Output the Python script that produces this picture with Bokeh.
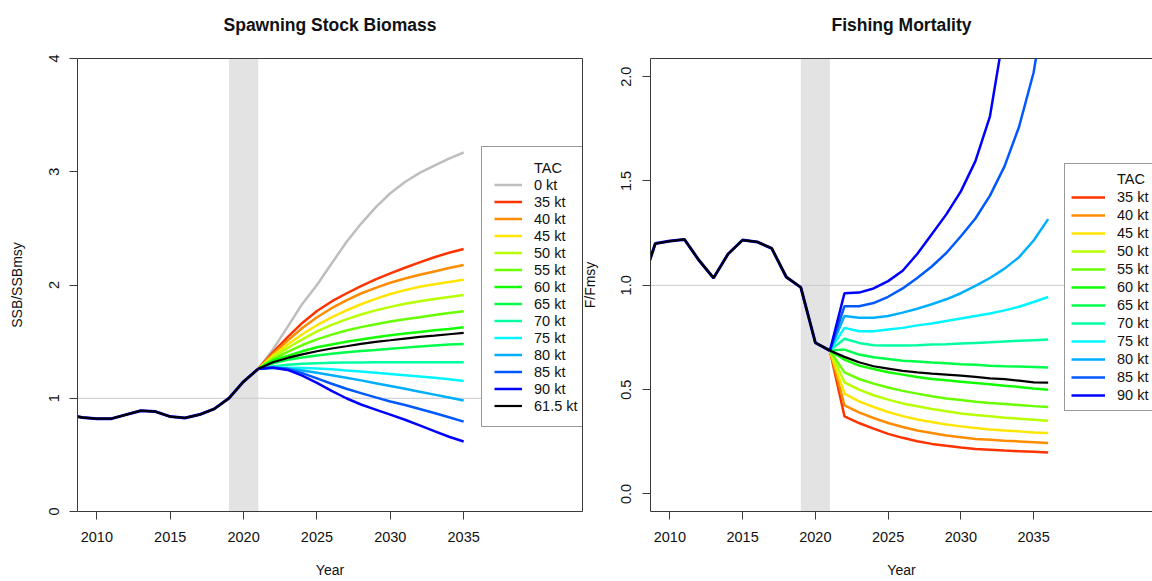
from bokeh.plotting import figure
from bokeh.models import (Range1d, FixedTicker, PrintfTickFormatter, BoxAnnotation,
                          Span, Legend, LegendItem, LinearAxis)
from bokeh.layouts import row
from bokeh.embed import file_html
from bokeh.resources import INLINE

# ---------------- data ----------------
hist_years = list(range(2008, 2022))
ssb_hist = [0.855, 0.83, 0.82, 0.82, 0.855, 0.89, 0.882, 0.838, 0.826, 0.856, 0.906, 1.0, 1.147, 1.26]
f_hist = [0.99, 1.20, 1.212, 1.22, 1.12, 1.035, 1.15, 1.217, 1.208, 1.177, 1.04, 0.99, 0.725, 0.687]

ssb_proj_years = list(range(2022, 2036))
f_proj_years = list(range(2022, 2037))

tac_labels = ["35 kt", "40 kt", "45 kt", "50 kt", "55 kt", "60 kt",
              "65 kt", "70 kt", "75 kt", "80 kt", "85 kt", "90 kt"]
tac_colors = ["#FF3300", "#FF8C00", "#FFE500", "#B8FF00", "#68FF00", "#11FF00",
              "#00FF48", "#00FFA0", "#00F6FF", "#00AEFF", "#0059FF", "#0000FF"]
zero_label = "0 kt"
zero_color = "#BEBEBE"
advice_label = "61.5 kt"
advice_color = "#000000"

ssb_0kt = [1.43, 1.63, 1.833, 2.0, 2.19, 2.377, 2.54, 2.686, 2.81, 2.91, 2.99, 3.054, 3.116, 3.17]
ssb_35kt = [1.406, 1.539, 1.665, 1.77, 1.855, 1.925, 1.99, 2.05, 2.103, 2.152, 2.2, 2.245, 2.285, 2.318]
ssb_40kt = [1.392, 1.509, 1.62, 1.715, 1.795, 1.865, 1.925, 1.975, 2.02, 2.058, 2.09, 2.12, 2.15, 2.177]
ssb_45kt = [1.377, 1.475, 1.565, 1.645, 1.715, 1.775, 1.83, 1.877, 1.92, 1.955, 1.985, 2.007, 2.027, 2.047]
ssb_50kt = [1.362, 1.445, 1.52, 1.59, 1.648, 1.697, 1.74, 1.776, 1.807, 1.834, 1.857, 1.877, 1.895, 1.912]
ssb_55kt = [1.345, 1.41, 1.47, 1.52, 1.562, 1.598, 1.628, 1.654, 1.677, 1.697, 1.716, 1.736, 1.753, 1.768]
ssb_60kt = [1.333, 1.374, 1.415, 1.45, 1.474, 1.498, 1.518, 1.538, 1.556, 1.571, 1.586, 1.6, 1.612, 1.627]
ssb_65kt = [1.309, 1.34, 1.36, 1.377, 1.392, 1.406, 1.418, 1.427, 1.438, 1.447, 1.456, 1.465, 1.474, 1.48]
ssb_70kt = [1.28, 1.295, 1.305, 1.31, 1.313, 1.315, 1.316, 1.317, 1.317, 1.318, 1.318, 1.318, 1.318, 1.318]
ssb_75kt = [1.268, 1.27, 1.268, 1.262, 1.255, 1.245, 1.236, 1.226, 1.215, 1.204, 1.193, 1.18, 1.167, 1.153]
ssb_80kt = [1.272, 1.262, 1.245, 1.225, 1.204, 1.181, 1.158, 1.133, 1.108, 1.083, 1.058, 1.032, 1.006, 0.98]
ssb_85kt = [1.272, 1.258, 1.222, 1.175, 1.128, 1.084, 1.045, 1.008, 0.972, 0.94, 0.905, 0.87, 0.832, 0.794]
ssb_90kt = [1.27, 1.25, 1.2, 1.135, 1.065, 1.0, 0.945, 0.9, 0.855, 0.81, 0.76, 0.71, 0.66, 0.618]
ssb_61_5kt = [1.318, 1.356, 1.388, 1.415, 1.439, 1.459, 1.48, 1.498, 1.512, 1.527, 1.542, 1.553, 1.565, 1.577]

f_35kt = [0.372, 0.34, 0.313, 0.288, 0.269, 0.253, 0.24, 0.231, 0.223, 0.216, 0.212, 0.208, 0.205, 0.202, 0.199]
f_40kt = [0.425, 0.391, 0.364, 0.34, 0.321, 0.304, 0.292, 0.28, 0.272, 0.264, 0.26, 0.255, 0.252, 0.248, 0.244]
f_45kt = [0.481, 0.444, 0.417, 0.393, 0.373, 0.357, 0.345, 0.333, 0.324, 0.316, 0.309, 0.304, 0.3, 0.295, 0.292]
f_50kt = [0.535, 0.5, 0.473, 0.452, 0.434, 0.42, 0.407, 0.396, 0.386, 0.378, 0.372, 0.365, 0.361, 0.356, 0.351]
f_55kt = [0.583, 0.551, 0.529, 0.51, 0.494, 0.481, 0.468, 0.458, 0.45, 0.442, 0.436, 0.431, 0.426, 0.421, 0.417]
f_60kt = [0.644, 0.615, 0.599, 0.583, 0.572, 0.561, 0.551, 0.545, 0.538, 0.532, 0.526, 0.519, 0.513, 0.506, 0.5]
f_65kt = [0.692, 0.668, 0.655, 0.647, 0.639, 0.635, 0.63, 0.627, 0.622, 0.619, 0.615, 0.612, 0.611, 0.609, 0.606]
f_70kt = [0.744, 0.724, 0.713, 0.712, 0.712, 0.713, 0.716, 0.718, 0.721, 0.724, 0.727, 0.731, 0.734, 0.737, 0.74]
f_75kt = [0.796, 0.78, 0.78, 0.788, 0.796, 0.808, 0.817, 0.829, 0.841, 0.853, 0.865, 0.88, 0.897, 0.92, 0.944]
f_80kt = [0.853, 0.845, 0.845, 0.853, 0.869, 0.888, 0.909, 0.933, 0.962, 0.997, 1.035, 1.08, 1.135, 1.215, 1.317]
f_85kt = [0.90, 0.90, 0.915, 0.945, 0.985, 1.035, 1.09, 1.155, 1.235, 1.32, 1.43, 1.57, 1.76, 2.02, 2.45]
f_90kt = [0.962, 0.965, 0.985, 1.02, 1.07, 1.15, 1.245, 1.34, 1.45, 1.595, 1.81, 2.23, 2.8, 3.5, 4.3]
f_61_5kt = [0.657, 0.631, 0.612, 0.601, 0.59, 0.583, 0.577, 0.572, 0.567, 0.561, 0.554, 0.55, 0.543, 0.535, 0.534]

ssb_series = [ssb_35kt, ssb_40kt, ssb_45kt, ssb_50kt, ssb_55kt, ssb_60kt,
              ssb_65kt, ssb_70kt, ssb_75kt, ssb_80kt, ssb_85kt, ssb_90kt]
f_series = [f_35kt, f_40kt, f_45kt, f_50kt, f_55kt, f_60kt,
            f_65kt, f_70kt, f_75kt, f_80kt, f_85kt, f_90kt]

interim_start, interim_end = 2019, 2021
ref_level = 1.0
x_ticks = [2010, 2015, 2020, 2025, 2030, 2035]
ssb_ticks = [0, 1, 2, 3, 4]
f_ticks = [0.0, 0.5, 1.0, 1.5, 2.0]

# ---------------- styling ----------------
FONT = "Liberation Sans"
AX = "#3a3a3a"
TXT = "#111111"
LW = 2.5
FRAME_H = 453


def bare_axis(label=None):
    ax = LinearAxis(ticker=FixedTicker(ticks=[]), axis_line_color=AX,
                    major_tick_line_color=None, minor_tick_line_color=None,
                    major_tick_out=0, major_label_standoff=0,
                    major_label_text_font_size="0px")
    if label is not None:
        ax.axis_label = label
        ax.axis_label_standoff = 24
        ax.axis_label_text_font = FONT
        ax.axis_label_text_font_size = "17.5px"
        ax.axis_label_text_font_style = "bold"
        ax.axis_label_text_color = TXT
    return ax


def make_fig(title, xr, yr, frame_w, mb_left, mb_right, ylabel, yticks, yfmt):
    p = figure(frame_width=frame_w, frame_height=FRAME_H, x_range=Range1d(*xr), y_range=Range1d(*yr),
               output_backend="svg", toolbar_location=None,
               min_border_left=mb_left, min_border_right=mb_right,
               min_border_top=58, min_border_bottom=70,
               background_fill_color="white")
    p.outline_line_color = None
    p.xgrid.visible = False
    p.ygrid.visible = False
    for ax in (p.xaxis[0], p.yaxis[0]):
        ax.axis_line_color = AX
        ax.major_tick_line_color = AX
        ax.minor_tick_line_color = None
        ax.major_tick_out = 8
        ax.major_tick_in = 0
        ax.major_label_text_font = FONT
        ax.major_label_text_font_size = "14.5px"
        ax.major_label_text_color = TXT
        ax.axis_label_text_font = FONT
        ax.axis_label_text_font_size = "14px"
        ax.axis_label_text_font_style = "normal"
        ax.axis_label_text_color = TXT
    p.xaxis[0].ticker = FixedTicker(ticks=x_ticks)
    p.xaxis[0].major_label_standoff = 12
    p.xaxis[0].axis_label = "Year"
    p.xaxis[0].axis_label_standoff = 17
    p.yaxis[0].ticker = FixedTicker(ticks=yticks)
    p.yaxis[0].formatter = PrintfTickFormatter(format=yfmt)
    p.yaxis[0].major_label_orientation = "vertical"
    p.yaxis[0].major_label_standoff = 11
    p.yaxis[0].axis_label = ylabel
    p.yaxis[0].axis_label_standoff = 21
    p.add_layout(bare_axis(title), "above")
    p.add_layout(BoxAnnotation(left=interim_start, right=interim_end, fill_color="#E3E3E3",
                               fill_alpha=1.0, line_color=None, level="underlay"))
    p.add_layout(Span(location=ref_level, dimension="width", line_color="#C8C8C8",
                      line_width=1, level="underlay"))
    return p


def style_legend(lg, pad, lh, gw, lw):
    lg.label_text_font = FONT
    lg.label_text_font_size = "14.5px"
    lg.label_text_color = TXT
    lg.border_line_color = "#333333"
    lg.border_line_width = 1
    lg.background_fill_color = "white"
    lg.background_fill_alpha = 1.0
    lg.padding = pad
    lg.spacing = 0
    lg.margin = 0
    lg.label_height = lh
    lg.glyph_height = lh
    lg.glyph_width = gw
    lg.label_width = lw
    lg.label_standoff = 12


# ---------------- left: SSB ----------------
p1 = make_fig("Spawning Stock Biomass", (2008.68, 2043.1), (0, 4), 505, 77, 12,
              "SSB/SSBmsy", ssb_ticks, "%d")
p1.add_layout(bare_axis(), "right")
ssb_x = [hist_years[-1]] + ssb_proj_years
items1 = [LegendItem(label="TAC", renderers=[p1.line(x=[], y=[], line_alpha=0)])]
r0 = p1.line(ssb_x, [ssb_hist[-1]] + ssb_0kt, line_color=zero_color, line_width=LW)
items1.append(LegendItem(label=zero_label, renderers=[r0]))
for lab, col, vals in zip(tac_labels, tac_colors, ssb_series):
    r = p1.line(ssb_x, [ssb_hist[-1]] + vals, line_color=col, line_width=LW)
    items1.append(LegendItem(label=lab, renderers=[r]))
ra = p1.line(ssb_x, [ssb_hist[-1]] + ssb_61_5kt, line_color=advice_color, line_width=2.2)
items1.append(LegendItem(label=advice_label, renderers=[ra]))
p1.line(hist_years, ssb_hist, line_color="#0000FF", line_width=3.0)
p1.line(hist_years, ssb_hist, line_color="#000000", line_width=2.3)
lg1 = Legend(items=items1, location=(404, 84))
style_legend(lg1, 12, 17, 28, 47)
p1.add_layout(lg1)

# ---------------- right: F ----------------
p2 = make_fig("Fishing Mortality", (2008.67, 2043.17), (-0.084, 2.087), 502, 72, 0,
              "F/Fmsy", f_ticks, "%.1f")
p2.border_fill_alpha = 0.0
p2.margin = (0, 0, 0, -16)
f_x = [hist_years[-1]] + f_proj_years
items2 = [LegendItem(label="TAC", renderers=[p2.line(x=[], y=[], line_alpha=0)])]
for lab, col, vals in zip(tac_labels, tac_colors, f_series):
    r = p2.line(f_x, [f_hist[-1]] + vals, line_color=col, line_width=LW)
    items2.append(LegendItem(label=lab, renderers=[r]))
p2.line(f_x, [f_hist[-1]] + f_61_5kt, line_color=advice_color, line_width=2.2)
p2.line(hist_years, f_hist, line_color="#0000FF", line_width=3.0)
p2.line(hist_years, f_hist, line_color="#000000", line_width=2.3)
lg2 = Legend(items=items2, location=(414, 100))
style_legend(lg2, 6, 18, 34, 30)
p2.add_layout(lg2)

layout = row(p1, p2, spacing=0)
open("out.html", "w").write(file_html(layout, INLINE))
